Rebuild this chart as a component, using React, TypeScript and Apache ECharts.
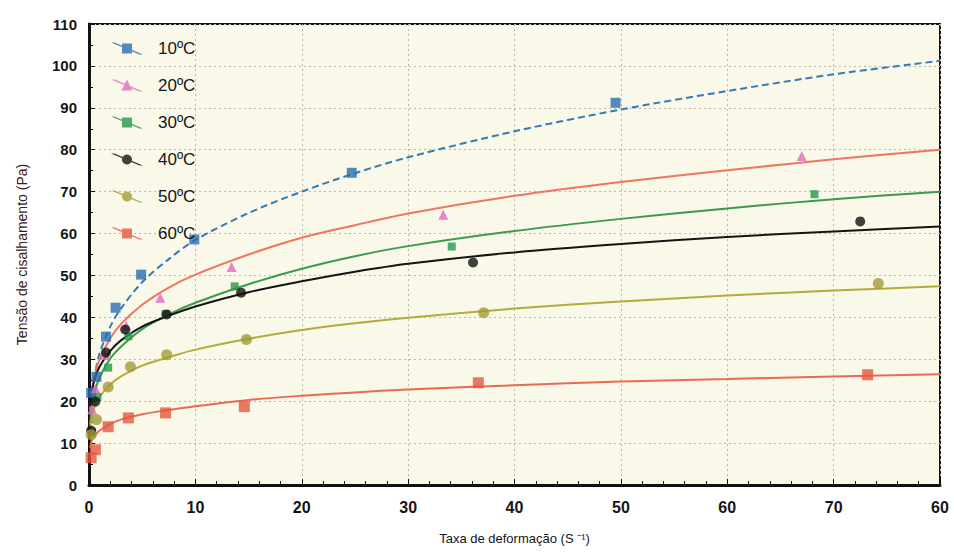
import React, { useEffect, useRef } from "react";
import * as echarts from "echarts";

const seriesNames = ["10ºC", "20ºC", "30ºC", "40ºC", "50ºC", "60ºC"];
const xTickLabels = ["0", "10", "20", "30", "40", "50", "60", "70", "60"];

// measured points [shear rate, shear stress]
const pts10 = [[0.2, 22], [0.7, 25.8], [1.6, 35.4], [2.5, 42.3], [4.9, 50.2], [9.9, 58.6], [24.7, 74.5], [49.5, 91.2]];
const pts20 = [[0.3, 18], [0.6, 23], [1.5, 31], [3.5, 38], [6.7, 44.7], [13.4, 52], [33.3, 64.5], [67, 78.5]];
const pts30 = [[0.3, 12.5], [0.8, 21], [1.8, 28], [3.7, 35.5], [7.2, 40.8], [13.7, 47.4], [34.1, 56.9], [68.2, 69.4]];
const pts40 = [[0.2, 13], [0.6, 19.9], [1.6, 31.6], [3.4, 37.1], [7.3, 40.7], [14.3, 45.9], [36.1, 53.1], [72.5, 62.9]];
const pts50 = [[0.2, 12], [0.7, 15.6], [1.8, 23.4], [3.9, 28.2], [7.3, 31.1], [14.8, 34.7], [37.1, 41.1], [74.2, 48.1]];
const pts60 = [[0.2, 6.5], [0.6, 8.4], [1.8, 13.9], [3.7, 16], [7.2, 17.2], [14.6, 18.7], [36.6, 24.4], [73.2, 26.3]];

// fitted curves
const fitX = [0.1, 0.3, 0.6, 1, 2, 3, 5, 7.5, 10, 15, 20, 25, 30, 40, 50, 60, 70, 80];
const fit10 = [17, 22.5, 27, 31.4, 37.8, 42.1, 48.4, 53.9, 58.5, 64.9, 70, 74.4, 78.2, 84.4, 89.6, 94, 98, 101.2];
const fit20 = [18, 22.9, 26.8, 30, 35, 38.4, 43, 47.1, 50.2, 55, 59, 62, 64.8, 69, 72.3, 75.1, 77.7, 80];
const fit30 = [14.5, 19.2, 22.7, 25.7, 30.2, 33, 37.2, 40.7, 43.5, 47.9, 51.6, 54.6, 57, 60.6, 63.5, 66, 68.2, 70];
const fit40 = [18.8, 22.8, 25.8, 28.3, 32, 34.5, 37.8, 40.4, 42.6, 46, 48.6, 50.9, 52.8, 55.5, 57.5, 59.2, 60.5, 61.7];
const fit50 = [13.8, 16.8, 19.2, 21.1, 24, 25.9, 28.5, 30.5, 32.3, 34.9, 37, 38.6, 39.9, 42.1, 43.8, 45.2, 46.4, 47.4];
const fit60 = [8.9, 10.9, 12, 13, 14.6, 15.6, 16.9, 17.9, 18.8, 20.3, 21.3, 22.1, 22.8, 23.8, 24.7, 25.3, 25.9, 26.4];

const pointSets = [pts10, pts20, pts30, pts40, pts50, pts60];
const fitSets = [fit10, fit20, fit30, fit40, fit50, fit60];

const markerColors = ["#2b6db3", "#e06cc0", "#24984a", "#111111", "#a39a36", "#e4583c"];
const lineColors = ["#3579b8", "#f07462", "#3c9a4e", "#141414", "#b4ab38", "#ec6a54"];
const symbols = ["rect", "triangle", "rect", "circle", "circle", "rect"];
const symbolSizes = [10, 10, 8, 10, 11, 11];

const stroke = "M0,0 L3.5,0 L32,12 L28.5,12 Z ";
const iconShapes: Record<string, string> = {
  rect: "M11,1 L21,1 L21,11 L11,11 Z",
  triangle: "M16,0 L21.5,11 L10.5,11 Z",
  circle: "M16,1 A5,5 0 1,1 15.99,1 Z",
};

export default function App() {
  const ref = useRef<HTMLDivElement>(null);
  useEffect(() => {
    if (!ref.current) return;
    const chart = echarts.init(ref.current, null, { renderer: "svg" });
    const series: any[] = [];
    seriesNames.forEach((name, i) => {
      series.push({
        type: "scatter",
        name,
        data: pointSets[i],
        symbol: symbols[i],
        symbolSize: symbolSizes[i],
        itemStyle: { color: markerColors[i] },
        z: 3,
      });
      series.push({
        type: "line",
        name,
        data: fitX.map((x, j) => [x, fitSets[i][j]]),
        smooth: 0.3,
        showSymbol: false,
        symbol: "none",
        lineStyle: { color: lineColors[i], width: 2, type: i === 0 ? [7, 4] : "solid" },
        itemStyle: { color: lineColors[i] },
        z: 2,
      });
    });
    chart.setOption({
      animation: false,
      backgroundColor: "#ffffff",
      grid: {
        left: 89,
        right: 14,
        top: 24,
        bottom: 73,
        show: true,
        backgroundColor: "#f9f8e9",
        borderColor: "#111",
        borderWidth: 2,
      },
      legend: {
        orient: "vertical",
        left: 106,
        top: 35,
        itemWidth: 32,
        itemHeight: 13,
        itemGap: 20,
        data: seriesNames.map((n, i) => ({
          name: n,
          icon: "path://" + stroke + iconShapes[symbols[i]],
        })),
        textStyle: {
          fontFamily: "Liberation Sans, Arial, sans-serif",
          fontSize: 17,
          color: "#151515",
          padding: [0, 0, 0, 10],
        },
      },
      xAxis: {
        type: "value",
        min: 0,
        max: 80,
        interval: 10,
        name: "Taxa de deformação (S ⁻¹)",
        nameLocation: "middle",
        nameGap: 47,
        nameTextStyle: { fontFamily: "Liberation Sans, Arial, sans-serif", fontSize: 13, color: "#151515" },
        axisLine: { show: true, lineStyle: { color: "#111", width: 3 } },
        axisTick: { show: true, inside: true, length: 6, lineStyle: { color: "#111" } },
        minorTick: { show: true, splitNumber: 5, length: 4, lineStyle: { color: "#111" } },
        axisLabel: {
          margin: 14,
          fontFamily: "Liberation Sans, Arial, sans-serif",
          fontSize: 16,
          fontWeight: "bold",
          color: "#151515",
          formatter: (v: number) => xTickLabels[Math.round(v / 10)] ?? "",
        },
        splitLine: { show: true, lineStyle: { color: "#b9b9b0", type: [2, 3], width: 1 } },
      },
      yAxis: {
        type: "value",
        min: 0,
        max: 110,
        interval: 10,
        name: "Tensão de cisalhamento (Pa)",
        nameLocation: "middle",
        nameGap: 60,
        nameTextStyle: { fontFamily: "Liberation Sans, Arial, sans-serif", fontSize: 14, color: "#3a2020" },
        axisLine: { show: true, lineStyle: { color: "#111", width: 3 } },
        axisTick: { show: true, inside: true, length: 6, lineStyle: { color: "#111" } },
        minorTick: { show: true, splitNumber: 2, length: 4, lineStyle: { color: "#111" } },
        axisLabel: {
          margin: 12,
          fontFamily: "Liberation Sans, Arial, sans-serif",
          fontSize: 15,
          fontWeight: "bold",
          color: "#151515",
        },
        splitLine: { show: true, lineStyle: { color: "#b9b9b0", type: [2, 3], width: 1 } },
      },
      series,
    });
    return () => chart.dispose();
  }, []);
  return <div ref={ref} style={{ position: "fixed", left: 0, top: 0, width: 954, height: 558 }} />;
}
